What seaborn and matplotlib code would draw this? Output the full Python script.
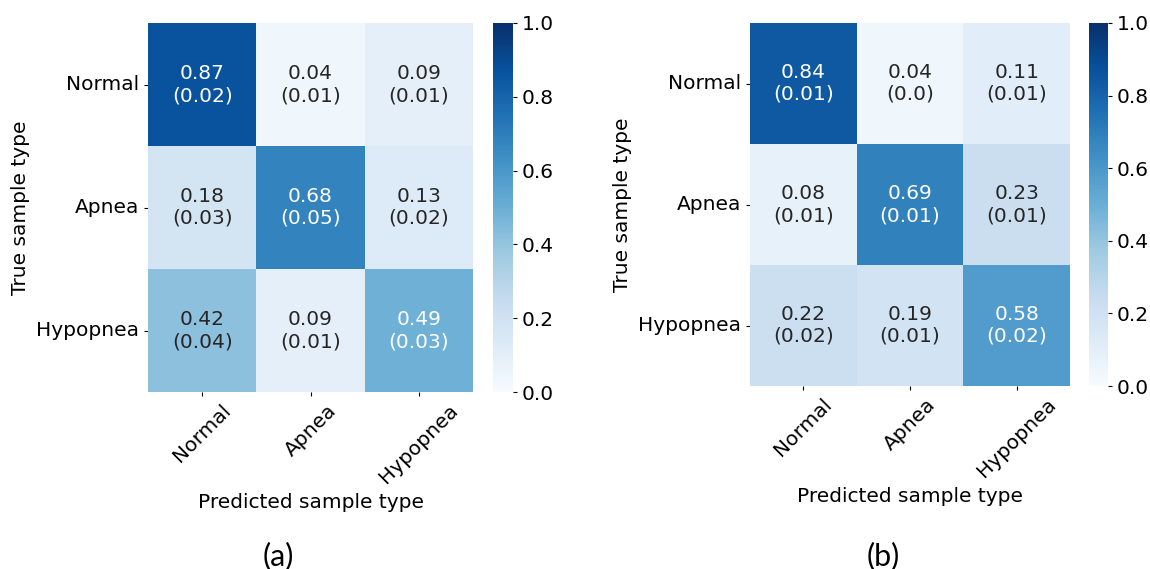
import numpy as np
import pandas as pd
import seaborn as sns
import matplotlib
matplotlib.use("Agg")
import matplotlib.pyplot as plt

classes = ["Normal", "Apnea", "Hypopnea"]

mean_a = [[0.87, 0.04, 0.09],
          [0.18, 0.68, 0.13],
          [0.42, 0.09, 0.49]]
std_a = [[0.02, 0.01, 0.01],
         [0.03, 0.05, 0.02],
         [0.04, 0.01, 0.03]]

mean_b = [[0.84, 0.04, 0.11],
          [0.08, 0.69, 0.23],
          [0.22, 0.19, 0.58]]
std_b = [[0.01, 0.0, 0.01],
         [0.01, 0.01, 0.01],
         [0.02, 0.01, 0.02]]

panel_labels = ["(a)", "(b)"]
cbar_ticks = [0.0, 0.2, 0.4, 0.6, 0.8, 1.0]

sns.set_theme(style="white")
plt.rcParams['font.family'] = ['DejaVu Sans']
plt.rcParams['text.color'] = 'black'
plt.rcParams['axes.labelcolor'] = 'black'
plt.rcParams['xtick.color'] = 'black'
plt.rcParams['ytick.color'] = 'black'

fig = plt.figure(figsize=(11.5, 5.69), dpi=100)
W, H = 1150, 569

def rect(x0, y0, x1, y1):
    return [x0 / W, 1 - y1 / H, (x1 - x0) / W, (y1 - y0) / H]

layouts = [
    (rect(148, 23, 473, 392), rect(493, 23, 513, 392), 278),
    (rect(750, 23, 1070, 386), rect(1089, 23, 1108, 386), 883),
]

FS = 14.5
for (mean, std), (hrect, crect, lx), lab in zip([(mean_a, std_a), (mean_b, std_b)], layouts, panel_labels):
    ax = fig.add_axes(hrect)
    cax = fig.add_axes(crect)
    df = pd.DataFrame(mean, index=classes, columns=classes)
    annot = np.array([[f"{m}\n({s})" for m, s in zip(mr, sr)] for mr, sr in zip(mean, std)])
    sns.heatmap(df, ax=ax, cbar_ax=cax, cmap="Blues", vmin=0, vmax=1,
                annot=annot, fmt="", annot_kws={"fontsize": FS},
                cbar_kws={"ticks": cbar_ticks})
    ax.set_xlabel("Predicted sample type", fontsize=FS)
    ax.set_ylabel("True sample type", fontsize=FS)
    ax.tick_params(axis="both", labelsize=FS, length=3, width=0.8, bottom=True, left=True)
    plt.setp(ax.get_xticklabels(), rotation=45, ha="center", rotation_mode="default")
    plt.setp(ax.get_yticklabels(), rotation=0)
    cax.tick_params(labelsize=FS, length=3, width=0.8, right=True)
    for sp in cax.spines.values():
        sp.set_visible(False)
    fig.text(lx / W, 1 - 556 / H, lab, fontsize=22, family=["Lato", "DejaVu Sans"],
             ha="center", va="center")

fig.savefig("out.png", dpi=100)
